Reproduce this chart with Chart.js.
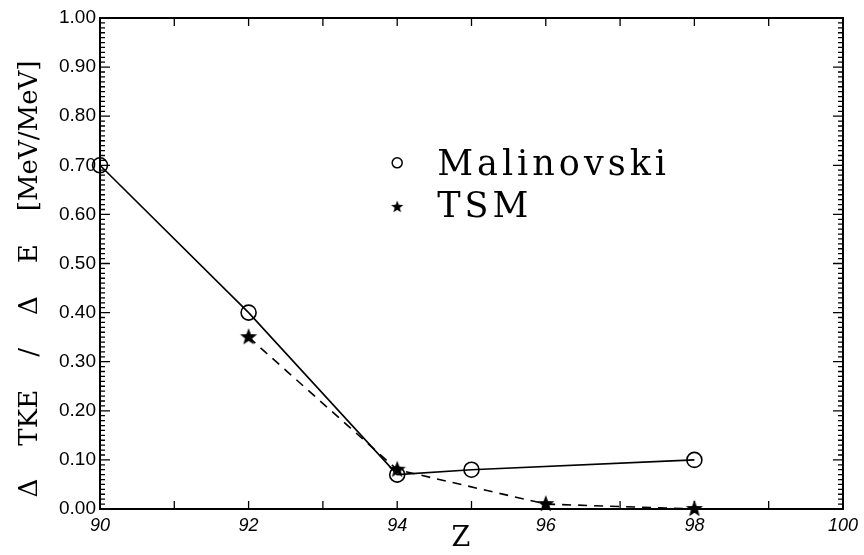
<!DOCTYPE html>
<html>
<head>
<meta charset="utf-8">
<script src="https://cdn.jsdelivr.net/npm/chart.js@4/dist/chart.umd.min.js"></script>
<style>
  html, body { margin: 0; padding: 0; background: #fff; }
  canvas { display: block; }
</style>
</head>
<body>
<canvas id="tkeChart" width="864" height="555"></canvas>
<script>
// Malinovski measurements
const malZ = [90, 92, 94, 95, 98];
const malRatio = [0.70, 0.40, 0.07, 0.08, 0.10];

// TSM calculation
const tsmZ = [92, 94, 96, 98];
const tsmRatio = [0.35, 0.08, 0.01, 0.00];

// axis ranges
const zMin = 90, zMax = 100;
const yMin = 0, yMax = 1;

const yTitle = "\u0394    TKE    /    \u0394    E    [MeV/MeV]";
const xTitle = "Z";

const serif = '"DejaVu Serif", "Liberation Serif", serif';
const sans = '"Liberation Sans", Arial, sans-serif';

//filled five point star used as marker
function makeStar(size, outer, inner) {
  const c = document.createElement("canvas");
  c.width = size;
  c.height = size;
  const g = c.getContext("2d");
  const cx = size / 2, cy = size / 2;
  g.beginPath();
  for (let i = 0; i < 10; i++) {
    const r = i % 2 === 0 ? outer : inner;
    const a = -Math.PI / 2 + (i * Math.PI) / 5;
    const px = cx + r * Math.cos(a);
    const py = cy + r * Math.sin(a);
    if (i === 0) g.moveTo(px, py);
    else g.lineTo(px, py);
  }
  g.closePath();
  g.fillStyle = "#000";
  g.fill();
  return c;
}

const bigStar = makeStar(20, 9, 3.8);
const smallStar = makeStar(14, 6.5, 2.7);

//frame with inward ticks on all four sides
const frameTicks = {
  id: "frameTicks",
  afterDraw(chart) {
    const { ctx, chartArea: a, scales } = chart;
    const xs = scales.x, ys = scales.y;
    ctx.save();
    ctx.strokeStyle = "#000";
    ctx.lineWidth = 2;
    ctx.strokeRect(a.left, a.top, a.right - a.left, a.bottom - a.top);

    ctx.lineWidth = 1.3;
    ctx.beginPath();
    for (let z = zMin + 1; z < zMax; z++) {
      const px = xs.getPixelForValue(z);
      ctx.moveTo(px, a.bottom);
      ctx.lineTo(px, a.bottom - 8);
      ctx.moveTo(px, a.top);
      ctx.lineTo(px, a.top + 8);
    }
    for (let i = 1; i < 100; i++) {
      const py = ys.getPixelForValue(i / 100);
      const len = i % 10 === 0 ? 10 : 5;
      ctx.moveTo(a.left, py);
      ctx.lineTo(a.left + len, py);
      ctx.moveTo(a.right, py);
      ctx.lineTo(a.right - len, py);
    }
    ctx.stroke();
    ctx.restore();
  },
};

//axis titles drawn by hand so they can sit off-centre
const axisTitles = {
  id: "axisTitles",
  afterDraw(chart) {
    const { ctx } = chart;
    ctx.save();
    ctx.fillStyle = "#000";
    ctx.textAlign = "center";
    ctx.textBaseline = "middle";
    ctx.font = "27px " + serif;
    ctx.fillText(xTitle, 461, 539);

    ctx.translate(30, 279);
    ctx.rotate(-Math.PI / 2);
    ctx.font = "26px " + serif;
    ctx.fillText(yTitle, 0, 0);
    ctx.restore();
  },
};

//legend text placed inside the plot
const innerLegend = {
  id: "innerLegend",
  afterDraw(chart) {
    const { ctx, scales } = chart;
    const x0 = scales.x.getPixelForValue(94.0);
    const row1 = scales.y.getPixelForValue(0.705);
    const row2 = scales.y.getPixelForValue(0.615);
    ctx.save();
    ctx.strokeStyle = "#000";
    ctx.lineWidth = 1.5;
    ctx.beginPath();
    ctx.arc(x0, row1, 5, 0, Math.PI * 2);
    ctx.stroke();
    ctx.drawImage(smallStar, x0 - 7, row2 - 7);
    ctx.fillStyle = "#000";
    ctx.font = "35px " + serif;
    ctx.letterSpacing = "4px";
    ctx.textBaseline = "alphabetic";
    ctx.fillText("Malinovski", x0 + 40, row1 + 12);
    ctx.fillText("TSM", x0 + 40, row2 + 10);
    ctx.restore();
  },
};

const malPoints = malZ.map((z, i) => ({ x: z, y: malRatio[i] }));
const tsmPoints = tsmZ.map((z, i) => ({ x: z, y: tsmRatio[i] }));

const tkeConfig = {
  type: "scatter",
  data: {
    datasets: [
      {
        label: "Malinovski",
        data: malPoints,
        showLine: true,
        borderColor: "#000",
        borderWidth: 1.6,
        backgroundColor: "rgba(0,0,0,0)",
        pointStyle: "circle",
        pointRadius: 7.5,
        pointBorderWidth: 1.6,
        pointBorderColor: "#000",
        pointBackgroundColor: "rgba(0,0,0,0)",
        clip: false,
      },
      {
        label: "TSM",
        data: tsmPoints,
        showLine: true,
        borderColor: "#000",
        borderWidth: 1.6,
        borderDash: [9, 7],
        pointStyle: bigStar,
        pointRadius: 9,
        clip: false,
      },
    ],
  },
  options: {
    responsive: false,
    animation: false,
    devicePixelRatio: 1,
    layout: { padding: { top: 18, right: 16, left: 0, bottom: 0 } },
    plugins: {
      legend: { display: false },
      tooltip: { enabled: false },
    },
    scales: {
      x: {
        type: "linear",
        min: zMin,
        max: zMax,
        grid: { display: false, drawTicks: false },
        border: { display: false },
        ticks: {
          stepSize: 1,
          padding: 6,
          color: "#000",
          font: { family: sans, size: 18, style: "italic" },
          maxRotation: 0,
          autoSkip: false,
          callback: (v) => (v % 2 === 0 ? String(v) : ""),
        },
        afterFit: (s) => {
          s.height = 46;
        },
      },
      y: {
        min: yMin,
        max: yMax,
        grid: { display: false, drawTicks: false },
        border: { display: false },
        ticks: {
          stepSize: 0.1,
          padding: 4,
          color: "#000",
          font: { family: sans, size: 19 },
          callback: (v) => v.toFixed(2),
        },
        afterFit: (s) => {
          s.width = 100;
        },
      },
    },
  },
  plugins: [frameTicks, axisTitles, innerLegend],
};

const tkeChart = new Chart(document.getElementById("tkeChart"), tkeConfig);
</script>
</body>
</html>
